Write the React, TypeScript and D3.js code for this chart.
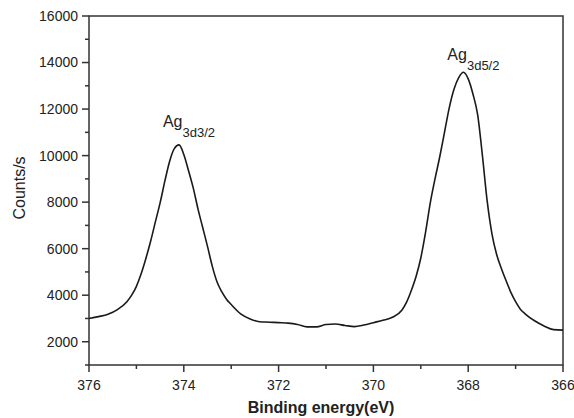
import React from "react";
import * as d3 from "d3";

const energies = [
  376.0, 375.8, 375.6, 375.4, 375.2, 375.1, 375.0, 374.9, 374.8, 374.7, 374.6, 374.5,
  374.4, 374.3, 374.2, 374.1, 374.0, 373.9, 373.8, 373.7, 373.6, 373.5, 373.4, 373.3,
  373.2, 373.1, 373.0, 372.8, 372.6, 372.4, 372.2, 372.0, 371.8, 371.6, 371.4, 371.2,
  371.0, 370.8, 370.6, 370.4, 370.2, 370.0, 369.8, 369.6, 369.4, 369.3, 369.2, 369.1,
  369.0, 368.9, 368.8, 368.7, 368.6, 368.5, 368.4, 368.3, 368.2, 368.1, 368.0, 367.9,
  367.8, 367.7, 367.6, 367.5, 367.4, 367.3, 367.2, 367.1, 367.0, 366.9, 366.8, 366.6,
  366.4, 366.2, 366.0,
];
const counts = [
  3000, 3080, 3180, 3380, 3720, 4000, 4380, 4920, 5580, 6320, 7150, 7970,
  8900, 9750, 10300, 10460, 10050, 9350, 8600, 7700, 6900, 6100, 5250, 4580,
  4150, 3830, 3600, 3200, 2980, 2860, 2840, 2820, 2800, 2740, 2640, 2640,
  2740, 2760, 2700, 2650, 2720, 2820, 2920, 3050, 3350, 3700, 4200, 4800,
  5600, 6700, 7970, 9000, 9950, 11000, 12050, 12850, 13350, 13580, 13300, 12650,
  11750, 10000, 8050, 6650, 5750, 5150, 4620, 4120, 3720, 3400, 3200, 2900,
  2680, 2520, 2500,
];

const xMajorTicks = [376, 374, 372, 370, 368, 366];
const xMinorTicks = [375, 373, 371, 369, 367];
const yMajorTicks = [2000, 4000, 6000, 8000, 10000, 12000, 14000, 16000];
const yMinorTicks = [1000, 3000, 5000, 7000, 9000, 11000, 13000, 15000];

const peakLabels = [
  { main: "Ag", sub: "3d3/2", energy: 374.44, value: 11230 },
  { main: "Ag", sub: "3d5/2", energy: 368.44, value: 14115 },
];

const W = 574;
const H = 418;
const left = 89;
const right = 563;
const top = 16;
const bottom = 365;

export default function App() {
  const x = d3.scaleLinear().domain([376, 366]).range([left, right]);
  const y = d3.scaleLinear().domain([1000, 16000]).range([bottom, top]);
  const data = energies.map((e, i) => [e, counts[i]] as [number, number]);
  const line = d3
    .line<[number, number]>()
    .x((d) => x(d[0]))
    .y((d) => y(d[1]))
    .curve(d3.curveMonotoneX);

  const axisColor = "#333";
  const font = "'Liberation Sans', Arial, sans-serif";

  return (
    <svg
      width={W}
      height={H}
      style={{ position: "absolute", left: 0, top: 0, background: "#fff" }}
      fontFamily={font}
    >
      <rect x={0} y={0} width={W} height={H} fill="#fff" />
      <rect
        x={left}
        y={top}
        width={right - left}
        height={bottom - top}
        fill="none"
        stroke={axisColor}
        strokeWidth={1.5}
      />
      {yMajorTicks.map((t) => (
        <g key={"ym" + t}>
          <line x1={left - 7} x2={left} y1={y(t)} y2={y(t)} stroke={axisColor} strokeWidth={1.5} />
          <text x={left - 11} y={y(t)} dy="0.35em" textAnchor="end" fontSize={14} fill="#222">
            {t}
          </text>
        </g>
      ))}
      {yMinorTicks.map((t) => (
        <line key={"yn" + t} x1={left - 4} x2={left} y1={y(t)} y2={y(t)} stroke={axisColor} strokeWidth={1.5} />
      ))}
      {xMajorTicks.map((t) => (
        <g key={"xm" + t}>
          <line x1={x(t)} x2={x(t)} y1={bottom} y2={bottom + 7} stroke={axisColor} strokeWidth={1.5} />
          <text x={x(t)} y={390} textAnchor="middle" fontSize={14} fill="#222">
            {t}
          </text>
        </g>
      ))}
      {xMinorTicks.map((t) => (
        <line key={"xn" + t} x1={x(t)} x2={x(t)} y1={bottom} y2={bottom + 4} stroke={axisColor} strokeWidth={1.5} />
      ))}
      <path d={line(data) || ""} fill="none" stroke="#1a1a1a" strokeWidth={1.6} />
      {peakLabels.map((p, i) => (
        <text key={i} x={x(p.energy)} y={y(p.value)} fontSize={16} fill="#222">
          {p.main}
          <tspan fontSize={13} dy={10}>
            {p.sub}
          </tspan>
        </text>
      ))}
      <text
        transform={`translate(25,188) rotate(-90)`}
        textAnchor="middle"
        fontSize={16}
        fill="#222"
      >
        Counts/s
      </text>
      <text x={321} y={413} textAnchor="middle" fontSize={16} fontWeight="bold" fill="#222">
        Binding energy(eV)
      </text>
    </svg>
  );
}
